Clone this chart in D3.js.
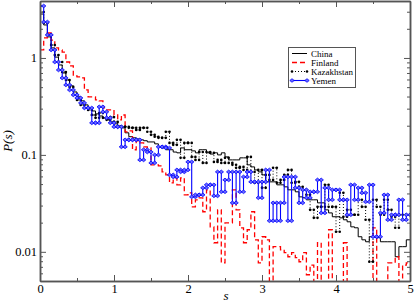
<!DOCTYPE html>
<html>
<head>
<meta charset="utf-8">
<script src="https://d3js.org/d3.v7.min.js"></script>
<style>
body { margin: 0; background: #fff; }
svg text { font-family: "Liberation Serif", "Times New Roman", Times, serif; }
</style>
</head>
<body>
<div id="chart"></div>
<script>
// bins of width 0.05 on s in [0, 5]
var binWidth = 0.05;
var countries = ["China", "Finland", "Kazakhstan", "Yemen"];

var china = [2.84,2.19,1.65,1.27,1.02,0.847,0.700,0.593,0.515,0.446,
  0.397,0.361,0.328,0.305,0.284,0.265,0.252,0.241,0.230,0.219,
  0.209,0.199,0.190,0.169,0.154,0.150,0.146,0.143,0.140,0.136,
  0.136,0.130,0.121,0.118,0.113,0.113,0.107,0.105,0.118,0.113,
  0.113,0.110,0.105,0.113,0.113,0.105,0.102,0.105,0.100,0.105,
  0.0954,0.0888,0.0888,0.0888,0.0932,0.0932,0.0789,0.0752,0.0700,0.0668,
  0.0622,0.0527,0.0527,0.0527,0.0491,0.0491,0.0468,0.0436,0.0436,0.0416,
  0.0369,0.0361,0.0344,0.0344,0.0344,0.0320,0.0320,0.0271,0.0252,0.0230,
  0.0230,0.0224,0.0214,0.0204,0.0181,0.0177,0.0143,0.0133,0.0127,0.0143,
  0.0143,0.0140,0.0127,0.0127,0.0127,0.0127,0.0089,0.0113,0.0113,0.0133];

var finland = [1.21,1.61,1.81,1.53,1.27,1.21,1.15,0.909,0.827,0.652,
  0.637,0.622,0.468,0.397,0.397,0.369,0.361,0.305,0.291,0.291,
  0.258,0.230,0.258,0.173,0.177,0.113,0.140,0.133,0.121,0.118,
  0.0789,0.0789,0.0771,0.0668,0.0622,0.0515,0.0579,0.0491,0.0579,0.0387,
  0.0406,0.0291,0.0344,0.0361,0.0259,0.0436,0.0181,0.0124,0.0271,0.0077,
  0.0199,0.0199,0.0436,0.0271,0.0177,0.0124,0.0169,0.0259,0.0133,0.0077,
  0.0143,0.0133,0,0.0113,0.0113,0.0105,0.0098,0.0089,0.0098,0.0087,
  0.0079,0.0098,0.0058,0.0073,0,0.0124,0,0,0.0169,0,
  0,0,0.0124,0,0,0,0,0,0,0,
  0.0177,0,0,0,0.0077,0.0077,0.0089,0,0.0073,0.0077];

var kazakhstan = [2.98,2.29,1.73,1.36,1.07,0.909,0.717,0.593,0.503,0.416,
  0.369,0.328,0.305,0.291,0.258,0.241,0.271,0.241,0.230,0.246,
  0.219,0.195,0.195,0.195,0.190,0.190,0.181,0.190,0.190,0.173,
  0.161,0.154,0.150,0.150,0.173,0.133,0.127,0.143,0.0932,0.133,
  0.133,0.0954,0.0888,0.107,0.0827,0.107,0.105,0.0847,0.0888,0.0827,
  0.0932,0.0827,0.0789,0.0735,0.0752,0.0700,0.0954,0.0668,0.0515,0.0700,
  0.0457,0.0622,0.0552,0.0735,0.0515,0.0552,0.0622,0.0700,0.0515,0.0527,
  0.0468,0.0436,0.0387,0.0271,0.0224,0.0291,0.0291,0.0491,0.0291,0.0291,
  0.0161,0.0406,0.0230,0.0271,0.0241,0.0241,0.0344,0.0291,0.0214,0.0079,
  0.0344,0.0291,0.0241,0.0344,0.0271,0.0230,0.0177,0.0241,0.0214,0.0241];

var yemen = [3.44,2.35,1.73,1.21,0.909,0.752,0.622,0.527,0.468,0.416,
  0.387,0.344,0.305,0.305,0.214,0.214,0.313,0.278,0.241,0.214,
  0.195,0.195,0.121,0.143,0.143,0.143,0.143,0.0888,0.113,0.107,
  0.0827,0.100,0.121,0.121,0.118,0.0622,0.0593,0.0700,0.0668,0.0700,
  0.0847,0.0369,0.0387,0.0387,0.0457,0.0491,0.0491,0.0378,0.0668,0.0416,
  0.0552,0.0668,0.0320,0.0668,0.0416,0.0593,0.0668,0.0527,0.0527,0.0361,
  0.0527,0.0700,0.0209,0.0320,0.0209,0.0320,0.0593,0.0209,0.0593,0.0457,
  0.0320,0.0436,0.0361,0.0416,0.0416,0.0552,0.0252,0.0457,0.0344,0.0436,
  0.0436,0.0344,0.0344,0.0241,0.0491,0.0344,0.0457,0.0406,0.0328,0.0491,
  0.0143,0.0143,0.0252,0.0387,0.0214,0.0241,0.0241,0.0344,0.0214,0.0241];

var xMajor = [0, 1, 2, 3, 4, 5];
var xMinor = [0.5, 1.5, 2.5, 3.5, 4.5];
var yMajor = [0.01, 0.1, 1];
var yMinor = [0.005,0.006,0.007,0.008,0.009,0.02,0.03,0.04,0.05,0.06,0.07,0.08,0.09,
              0.2,0.3,0.4,0.5,0.6,0.7,0.8,0.9,2,3];

var W = 415, H = 303;
var pLeft = 40, pRight = 410, pTop = 1, pBottom = 281;
var axisColor = "#555";
var serif = "'Liberation Serif', 'Times New Roman', Times, serif";

var svg = d3.select("#chart").append("svg")
  .attr("width", W).attr("height", H)
  .attr("font-family", serif);

var x = d3.scaleLinear().domain([0, 5]).range([pLeft, pRight]);
var y = d3.scaleLog().domain([0.005, 3.87]).range([pBottom, pTop]);

svg.append("clipPath").attr("id", "plotclip")
  .append("rect").attr("x", pLeft).attr("y", pTop)
  .attr("width", pRight - pLeft).attr("height", pBottom - pTop);

function yv(v) { return v > 0 ? y(v) : pBottom + 20; }

// step outline of a histogram
function stepPath(vals) {
  var pts = [];
  vals.forEach(function(v, i) {
    pts.push([x(i * binWidth), yv(v)]);
    pts.push([x((i + 1) * binWidth), yv(v)]);
  });
  return d3.line()(pts);
}
function cornerPoints(vals) {
  var pts = [];
  vals.forEach(function(v, i) {
    if (v <= 0) return;
    pts.push([x(i * binWidth), y(v)]);
    pts.push([x((i + 1) * binWidth), y(v)]);
  });
  return pts;
}

var plot = svg.append("g").attr("clip-path", "url(#plotclip)");

plot.append("path").attr("d", stepPath(china))
  .attr("fill", "none").attr("stroke", "#000").attr("stroke-width", 1);

plot.append("path").attr("d", stepPath(finland))
  .attr("fill", "none").attr("stroke", "#ff0000").attr("stroke-width", 1.3)
  .attr("stroke-dasharray", "5,3");

plot.append("path").attr("d", stepPath(kazakhstan))
  .attr("fill", "none").attr("stroke", "#000").attr("stroke-width", 1)
  .attr("stroke-dasharray", "1,2");
plot.append("g").selectAll("circle")
  .data(cornerPoints(kazakhstan))
  .enter().append("circle")
    .attr("cx", function(d) { return d[0]; })
    .attr("cy", function(d) { return d[1]; })
    .attr("r", 1.3)
    .attr("fill", "#000");

plot.append("path").attr("d", stepPath(yemen))
  .attr("fill", "none").attr("stroke", "#0000ff").attr("stroke-width", 1.1);
var diamond = "M-2.2,0L0,-1.8L2.2,0L0,1.8Z";
plot.append("g").selectAll("path")
  .data(cornerPoints(yemen))
  .enter().append("path")
    .attr("d", diamond)
    .attr("transform", function(d) { return "translate(" + d[0] + "," + d[1] + ")"; })
    .attr("fill", "#6a6aff")
    .attr("stroke", "#0000ff")
    .attr("stroke-width", 0.8);

// axes, ticks pointing inward on all four sides
function styleAxis(g) {
  g.attr("font-family", serif);
  g.selectAll("path.domain").attr("stroke", axisColor).attr("stroke-width", 1.5);
  g.selectAll(".tick line").attr("stroke", axisColor).attr("stroke-width", 1);
  g.selectAll(".tick text").attr("fill", "#000").attr("font-size", 12.5);
}

svg.append("g").attr("transform", "translate(0," + pBottom + ")")
  .call(d3.axisBottom(x).tickValues(xMajor).tickSizeInner(-6).tickSizeOuter(0)
    .tickPadding(3).tickFormat(d3.format("d")))
  .call(styleAxis);
svg.append("g").attr("transform", "translate(0," + pBottom + ")")
  .call(d3.axisBottom(x).tickValues(xMinor).tickSizeInner(-3).tickSizeOuter(0).tickFormat(""))
  .call(styleAxis);
svg.append("g").attr("transform", "translate(0," + pTop + ")")
  .call(d3.axisTop(x).tickValues(xMajor).tickSizeInner(-6).tickSizeOuter(0).tickFormat(""))
  .call(styleAxis);
svg.append("g").attr("transform", "translate(0," + pTop + ")")
  .call(d3.axisTop(x).tickValues(xMinor).tickSizeInner(-3).tickSizeOuter(0).tickFormat(""))
  .call(styleAxis);

svg.append("g").attr("transform", "translate(" + pLeft + ",0)")
  .call(d3.axisLeft(y).tickValues(yMajor).tickSizeInner(-6).tickSizeOuter(0)
    .tickPadding(3).tickFormat(function(d) { return d3.format("~g")(d); }))
  .call(styleAxis);
svg.append("g").attr("transform", "translate(" + pLeft + ",0)")
  .call(d3.axisLeft(y).tickValues(yMinor).tickSizeInner(-3).tickSizeOuter(0).tickFormat(""))
  .call(styleAxis);
svg.append("g").attr("transform", "translate(" + pRight + ",0)")
  .call(d3.axisRight(y).tickValues(yMajor).tickSizeInner(-6).tickSizeOuter(0).tickFormat(""))
  .call(styleAxis);
svg.append("g").attr("transform", "translate(" + pRight + ",0)")
  .call(d3.axisRight(y).tickValues(yMinor).tickSizeInner(-3).tickSizeOuter(0).tickFormat(""))
  .call(styleAxis);

// axis titles
svg.append("text")
  .attr("x", 226).attr("y", 300)
  .attr("text-anchor", "middle")
  .attr("font-size", 13).attr("font-style", "italic")
  .text("s");
svg.append("text")
  .attr("transform", "translate(12," + ((pTop + pBottom) / 2) + ") rotate(-90)")
  .attr("text-anchor", "middle")
  .attr("font-size", 13).attr("font-style", "italic")
  .text("P(s)");

// legend
var legend = svg.append("g");
legend.append("rect")
  .attr("x", 288.5).attr("y", 47.5).attr("width", 67).attr("height", 40)
  .attr("fill", "#fff").attr("stroke", axisColor).attr("stroke-width", 1);
var rowY = [53.5, 62.5, 71.5, 80.5];
var lx1 = 292, lx2 = 307, tx = 311;
legend.append("line").attr("x1", lx1).attr("x2", lx2).attr("y1", rowY[0]).attr("y2", rowY[0])
  .attr("stroke", "#000").attr("stroke-width", 1);
legend.append("line").attr("x1", lx1).attr("x2", lx2).attr("y1", rowY[1]).attr("y2", rowY[1])
  .attr("stroke", "#ff0000").attr("stroke-width", 1.3).attr("stroke-dasharray", "5,3");
legend.append("line").attr("x1", lx1).attr("x2", lx2).attr("y1", rowY[2]).attr("y2", rowY[2])
  .attr("stroke", "#000").attr("stroke-width", 1).attr("stroke-dasharray", "1,2");
[lx1, lx2].forEach(function(px) {
  legend.append("circle").attr("cx", px).attr("cy", rowY[2]).attr("r", 1.3).attr("fill", "#000");
});
legend.append("line").attr("x1", lx1).attr("x2", lx2).attr("y1", rowY[3]).attr("y2", rowY[3])
  .attr("stroke", "#0000ff").attr("stroke-width", 1.1);
[lx1, lx2].forEach(function(px) {
  legend.append("path").attr("d", diamond)
    .attr("transform", "translate(" + px + "," + rowY[3] + ")")
    .attr("fill", "#6a6aff").attr("stroke", "#0000ff").attr("stroke-width", 0.8);
});
countries.forEach(function(c, i) {
  legend.append("text").attr("x", tx).attr("y", rowY[i] + 3)
    .attr("font-size", 9).text(c);
});
</script>
</body>
</html>
